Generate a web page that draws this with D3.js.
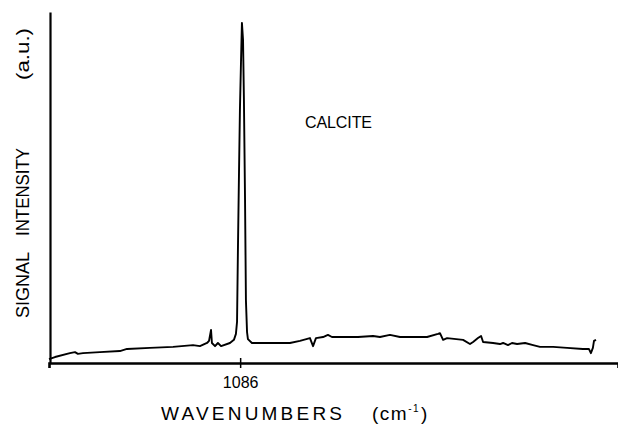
<!DOCTYPE html>
<html>
<head>
<meta charset="utf-8">
<script src="https://cdn.jsdelivr.net/npm/d3@7"></script>
<style>
  html, body { margin: 0; padding: 0; background: #fff; }
  text { font-family: "Liberation Sans", Arial, sans-serif; fill: #000; }
</style>
</head>
<body>
<div id="chart"></div>
<script>
// Raman spectrum of calcite
const wavenumbers = [
  1000.0, 1002.7, 1009.4, 1011.7, 1013.0, 1015.3, 1022.9, 1031.9, 1035.1, 1045.4,
  1055.8, 1064.8, 1067.9, 1071.1, 1072.0, 1072.9, 1073.3, 1074.7, 1076.0, 1077.4,
  1081.4, 1083.2, 1084.1, 1084.6, 1085.0, 1085.5, 1085.9, 1086.4, 1086.8, 1087.3,
  1087.7, 1088.2, 1088.6, 1089.1, 1089.5, 1091.3, 1098.1, 1108.4, 1112.9, 1117.4,
  1118.8, 1120.1, 1123.3, 1125.5, 1127.3, 1135.4, 1139.0, 1145.8, 1148.9, 1153.4,
  1157.9, 1170.1, 1175.0, 1175.9, 1177.3, 1179.1, 1186.3, 1189.4, 1190.8, 1193.0,
  1194.4, 1195.3, 1199.8, 1202.9, 1204.3, 1206.5, 1208.3, 1210.6, 1214.2, 1217.8,
  1220.9, 1226.8, 1233.1, 1240.2, 1242.9, 1243.8, 1244.7, 1245.2, 1246.1
];
const intensity = [
  1.1, 1.7, 2.8, 3.1, 2.6, 2.8, 3.1, 3.4, 4.0, 4.3,
  4.6, 5.1, 4.8, 5.7, 6.3, 9.4, 5.7, 4.8, 5.7, 4.8,
  5.7, 6.6, 8.3, 11.7, 32.2, 55.0, 72.1, 86.3, 96.9, 92.0,
  74.9, 46.4, 17.9, 8.8, 6.8, 5.7, 5.7, 5.7, 6.3, 7.1,
  4.8, 7.1, 7.4, 8.0, 7.4, 7.4, 7.4, 7.7, 7.4, 8.0,
  7.4, 7.4, 8.3, 8.5, 6.6, 7.1, 6.6, 5.4, 6.0, 7.1,
  7.7, 6.0, 5.7, 5.4, 5.7, 5.1, 5.7, 5.4, 5.7, 5.1,
  4.6, 4.6, 4.3, 4.0, 4.0, 2.8, 4.3, 6.3, 6.6
];
const xTicks = [1086];
const xDomain = [1000, 1256];
const yDomain = [0, 100];

const width = 618, height = 428;
const margin = { left: 50, right: 0, top: 12, bottom: 65 };

const svg = d3.select("#chart").append("svg")
  .attr("width", width)
  .attr("height", height);

const x = d3.scaleLinear().domain(xDomain).range([margin.left - 1, width - margin.right]);
const y = d3.scaleLinear().domain(yDomain).range([height - margin.bottom, margin.top]);

const points = wavenumbers.map((w, i) => [w, intensity[i]]);

// spectrum trace
svg.append("path")
  .datum(points)
  .attr("fill", "none")
  .attr("stroke", "#000")
  .attr("stroke-width", 1.9)
  .attr("stroke-linejoin", "round")
  .attr("d", d3.line().x(d => x(d[0])).y(d => y(d[1])));

// y axis: bare line, no ticks
const yAxis = svg.append("g")
  .attr("transform", `translate(${margin.left},0)`)
  .call(d3.axisLeft(y).tickValues([]).tickSizeOuter(0));
yAxis.select(".domain").attr("stroke", "#000").attr("stroke-width", 2.2);

// x axis with the single labelled tick
const xAxis = svg.append("g")
  .attr("transform", `translate(0,${height - margin.bottom})`)
  .call(d3.axisBottom(x).tickValues(xTicks).tickSizeOuter(0).tickSize(5).tickPadding(9));
xAxis.select(".domain").attr("stroke", "#000").attr("stroke-width", 2.6);
xAxis.selectAll(".tick line").attr("y1", -5).attr("stroke", "#000").attr("stroke-width", 1.5);
xAxis.selectAll(".tick text")
  .attr("font-family", "Liberation Sans, Arial, sans-serif")
  .attr("font-size", 16)
  .attr("fill", "#000")
  .text(d => d);

// annotation
svg.append("text")
  .attr("x", 305)
  .attr("y", 128)
  .attr("font-size", 16)
  .attr("textLength", 67)
  .attr("lengthAdjust", "spacing")
  .text("CALCITE");

// x axis title
svg.append("text")
  .attr("x", 161).attr("y", 420)
  .attr("font-size", 19)
  .attr("textLength", 181)
  .attr("lengthAdjust", "spacing")
  .text("WAVENUMBERS");
const unit = svg.append("text")
  .attr("x", 372).attr("y", 420)
  .attr("font-size", 19)
  .attr("letter-spacing", 1.5);
unit.append("tspan").text("(cm");
unit.append("tspan").attr("font-size", 10).attr("dy", -8).text("-1");
unit.append("tspan").attr("dy", 8).attr("dx", 1).text(")");

// y axis title, rotated, one word at a time
const yWords = [
  { t: "SIGNAL", from: 318, len: 66 },
  { t: "INTENSITY", from: 236, len: 88 },
  { t: "(a.u.)", from: 80, len: 52 }
];
yWords.forEach(w => {
  svg.append("text")
    .attr("transform", `translate(29,${w.from}) rotate(-90)`)
    .attr("font-size", 18)
    .attr("textLength", w.len)
    .attr("lengthAdjust", "spacingAndGlyphs")
    .text(w.t);
});
</script>
</body>
</html>
